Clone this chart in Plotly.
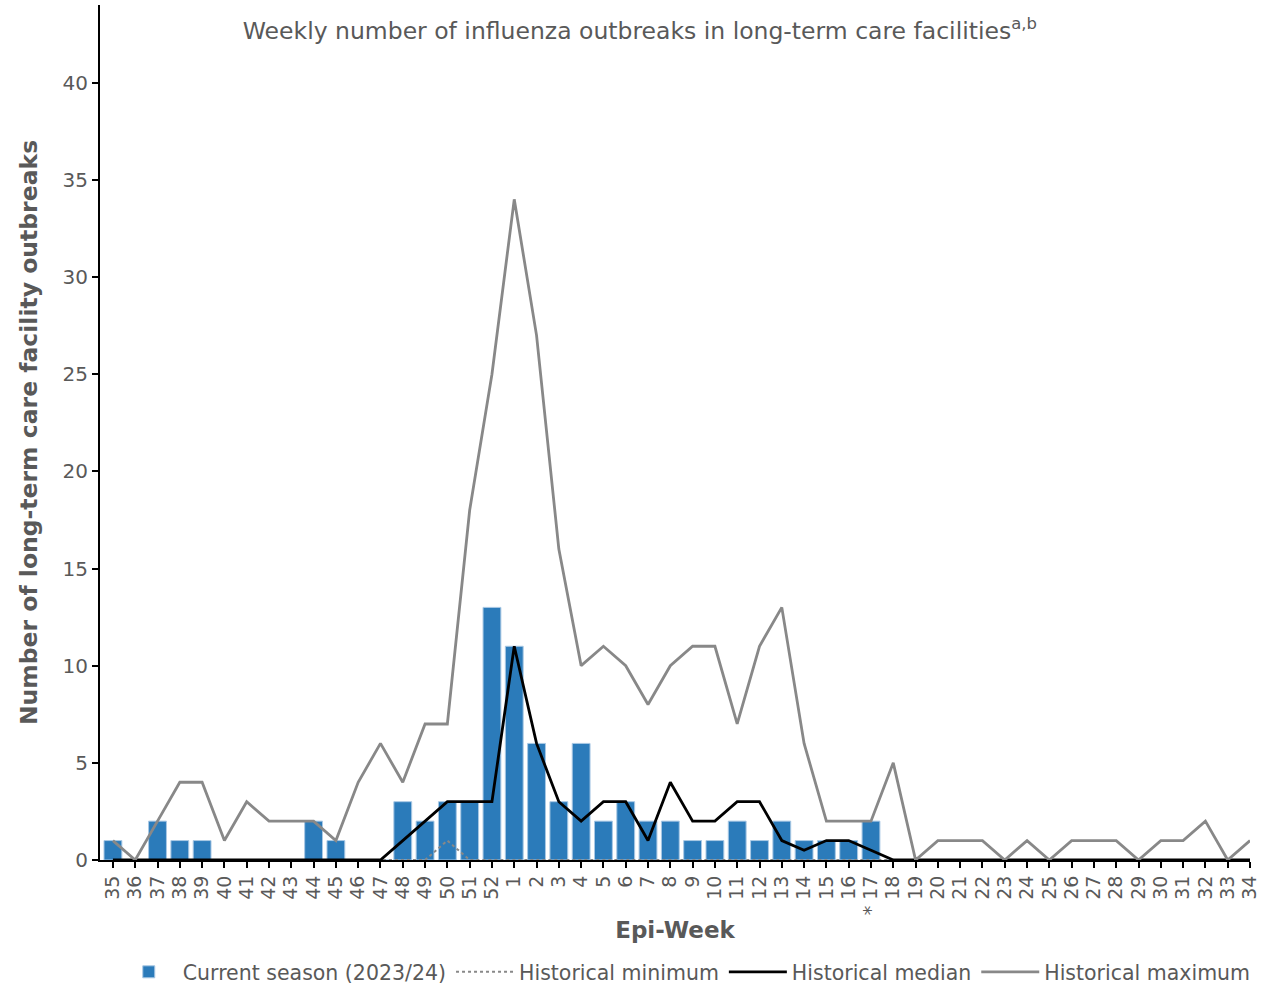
import plotly.graph_objects as go

# Epi-weeks of the 2023/24 season (week 35 through week 34)
weeks = [str(w) for w in list(range(35, 53)) + list(range(1, 35))]
week_labels = ["* 17" if w == "17" else w for w in weeks]

current_season = [1, 0, 2, 1, 1, 0, 0, 0, 0, 2, 1, 0, 0, 3, 2, 3, 3, 13,
                  11, 6, 3, 6, 2, 3, 2, 2, 1, 1, 2, 1, 2, 1, 1, 1, 2,
                  0, 0, 0, 0, 0, 0, 0, 0, 0, 0, 0, 0, 0, 0, 0, 0, 0]
hist_min = [0, 0, 0, 0, 0, 0, 0, 0, 0, 0, 0, 0, 0, 0, 0, 1, 0, 0,
            0, 0, 0, 0, 0, 0, 0, 0, 0, 0, 0, 0, 0, 0, 0, 0, 0,
            0, 0, 0, 0, 0, 0, 0, 0, 0, 0, 0, 0, 0, 0, 0, 0, 0]
hist_median = [0, 0, 0, 0, 0, 0, 0, 0, 0, 0, 0, 0, 0, 1, 2, 3, 3, 3,
               11, 6, 3, 2, 3, 3, 1, 4, 2, 2, 3, 3, 1, 0.5, 1, 1, 0.5,
               0, 0, 0, 0, 0, 0, 0, 0, 0, 0, 0, 0, 0, 0, 0, 0, 0]
hist_max = [1, 0, 2, 4, 4, 1, 3, 2, 2, 2, 1, 4, 6, 4, 7, 7, 18, 25,
            34, 27, 16, 10, 11, 10, 8, 10, 11, 11, 7, 11, 13, 6, 2, 2, 2,
            5, 0, 1, 1, 1, 0, 1, 0, 1, 1, 1, 0, 1, 1, 2, 0, 1]

x = list(range(len(weeks)))
FONT = "DejaVu Sans"
GREY_TXT = "#595959"

fig = go.Figure()
fig.add_trace(go.Bar(
    x=x, y=current_season, name="Current season (2023/24)",
    marker=dict(color="#2b7bba", line=dict(color="#a9c8e4", width=1)),
    width=0.8,
))
fig.add_trace(go.Scatter(
    x=x, y=hist_min, mode="lines", name="Historical minimum",
    line=dict(color="#888888", width=2, dash="dot"),
))
fig.add_trace(go.Scatter(
    x=x, y=hist_median, mode="lines", name="Historical median",
    line=dict(color="#000000", width=2.8),
))
fig.add_trace(go.Scatter(
    x=x, y=hist_max, mode="lines", name="Historical maximum",
    line=dict(color="#888888", width=2.8),
))

fig.update_layout(
    width=1262, height=987,
    margin=dict(l=100, r=12, t=5, b=127, autoexpand=False),
    plot_bgcolor="white", paper_bgcolor="white",
    font=dict(family=FONT, color=GREY_TXT, size=20),
    title=dict(
        text="Weekly number of influenza outbreaks in long-term care facilities<sup>a,b</sup>",
        x=0.507, xanchor="center", y=0.969, yanchor="middle",
        font=dict(family=FONT, size=23.5, color=GREY_TXT),
    ),
    showlegend=True,
    legend=dict(
        orientation="h", xref="container", yref="container",
        x=0.543, xanchor="center", y=1 - 972 / 987, yanchor="middle",
        font=dict(family=FONT, size=20.5, color=GREY_TXT),
        itemwidth=58, traceorder="normal",
    ),
    bargap=0.2,
)
fig.update_xaxes(
    tickmode="array", tickvals=x, ticktext=week_labels,
    tickangle=-90, range=[-0.58, 51.0], automargin=False,
    showline=True, linecolor="black", linewidth=2,
    ticks="outside", tickcolor="black", ticklen=6, tickwidth=2,
    tickfont=dict(family=FONT, size=19, color=GREY_TXT),
    showgrid=False, zeroline=False,
    title=dict(text="<b>Epi-Week</b>", font=dict(family=FONT, size=23, color=GREY_TXT), standoff=8),
)
fig.update_yaxes(
    range=[0, 44], tickvals=[0, 5, 10, 15, 20, 25, 30, 35, 40], automargin=False,
    showline=True, linecolor="black", linewidth=2,
    ticks="outside", tickcolor="black", ticklen=6, tickwidth=2,
    tickfont=dict(family=FONT, size=20, color=GREY_TXT),
    showgrid=False, zeroline=False,
    title=dict(text="<b>Number of long-term care facility outbreaks</b>",
               font=dict(family=FONT, size=23.5, color=GREY_TXT), standoff=18),
)

fig.write_html("out.html")
